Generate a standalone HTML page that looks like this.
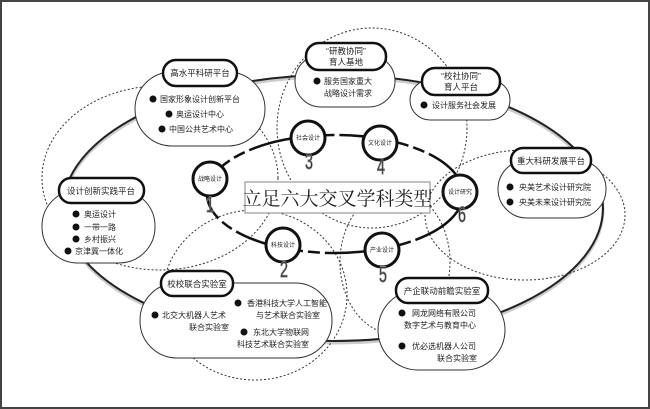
<!DOCTYPE html>
<html><head><meta charset="utf-8"><style>
html,body{margin:0;padding:0;background:#fff}
svg{display:block}
text{font-family:"Liberation Sans","Noto Sans CJK SC",sans-serif;fill:#222}
</style></head><body>
<svg width="650" height="409" viewBox="0 0 650 409" xmlns="http://www.w3.org/2000/svg">
<rect x="1" y="1" width="648" height="407" fill="#fff" stroke="#444" stroke-width="2"/>
<!-- big ellipse -->
<ellipse cx="333" cy="210" rx="270" ry="133" fill="none" stroke="#ccc" stroke-width="3"/>
<ellipse cx="333" cy="208" rx="270" ry="133" fill="none" stroke="#222" stroke-width="2"/>
<!-- dotted circles -->
<g fill="none" stroke="#333" stroke-width="1" stroke-dasharray="2,2">
<ellipse cx="160" cy="178" rx="118" ry="92"/>
<ellipse cx="372" cy="128" rx="95" ry="100"/>
<ellipse cx="525" cy="215" rx="100" ry="65"/>
<ellipse cx="395" cy="262" rx="55" ry="72"/>
<ellipse cx="255" cy="295" rx="92" ry="85"/>
</g>
<!-- inner ellipse -->
<ellipse cx="335" cy="194" rx="128" ry="59" fill="none" stroke="#111" stroke-width="2.5" stroke-dasharray="70,5,12,5"/>
<!-- center box -->
<rect x="245" y="182" width="185" height="31" fill="#fff" stroke="#999" stroke-width="1.2"/>
<text x="337.5" y="205" text-anchor="middle" style="font-family:'Liberation Serif','Noto Serif CJK SC',serif" font-size="19" fill="#111">立足六大交叉学科类型</text>
<!-- nodes -->
<g font-size="6" text-anchor="middle">
<g><circle cx="210" cy="179" r="17" fill="#fff" stroke="#111" stroke-width="3"/><text x="210" y="181">战略设计</text><text transform="translate(210,212) scale(0.65,1)" font-size="22" fill="#fff" stroke="#777" stroke-width="0.9">1</text></g>
<g><circle cx="308" cy="138" r="17" fill="#fff" stroke="#111" stroke-width="3"/><text x="308" y="140">社会设计</text><text transform="translate(309,169) scale(0.65,1)" font-size="22" fill="#fff" stroke="#777" stroke-width="0.9">3</text></g>
<g><circle cx="380" cy="143" r="17" fill="#fff" stroke="#111" stroke-width="3"/><text x="380" y="145">文化设计</text><text transform="translate(381,174) scale(0.65,1)" font-size="22" fill="#fff" stroke="#777" stroke-width="0.9">4</text></g>
<g><circle cx="460" cy="192" r="17" fill="#fff" stroke="#111" stroke-width="3"/><text x="460" y="194">设计研究</text><text transform="translate(462,222) scale(0.65,1)" font-size="22" fill="#fff" stroke="#777" stroke-width="0.9">6</text></g>
<g><circle cx="382" cy="250" r="17" fill="#fff" stroke="#111" stroke-width="3"/><text x="382" y="252">产业设计</text><text transform="translate(383,282) scale(0.65,1)" font-size="22" fill="#fff" stroke="#777" stroke-width="0.9">5</text></g>
<g><circle cx="283" cy="245" r="17" fill="#fff" stroke="#111" stroke-width="3"/><text x="283" y="247">科技设计</text><text transform="translate(284,277) scale(0.65,1)" font-size="22" fill="#fff" stroke="#777" stroke-width="0.9">2</text></g>
</g>
<!-- boxes -->
<g fill="#fff" stroke="#333" stroke-width="1">
<rect x="135" y="72" width="130" height="74" rx="37"/>
<rect x="295" y="55" width="100" height="52" rx="26"/>
<rect x="410" y="80" width="100" height="40" rx="20"/>
<rect x="498" y="160" width="108" height="58" rx="29"/>
<rect x="42" y="190" width="113" height="73" rx="36"/>
<rect x="140" y="283" width="192" height="75" rx="37"/>
<rect x="378" y="290" width="127" height="80" rx="40"/>
</g>
<g fill="#fff" stroke="#111" stroke-width="2.5">
<rect x="163" y="60" width="74" height="26" rx="13"/>
<rect x="306" y="43" width="80" height="27" rx="13"/>
<rect x="422" y="68" width="78" height="27" rx="13"/>
<rect x="511" y="148" width="80" height="25" rx="12"/>
<rect x="59" y="178" width="85" height="25" rx="12"/>
<rect x="161" y="271" width="72" height="25" rx="12"/>
<rect x="396" y="278" width="92" height="25" rx="12"/>
</g>
<g font-size="8.5" text-anchor="middle">
<text x="200" y="76">高水平科研平台</text>
<text x="346" y="54">“研教协同”</text><text x="346" y="65">育人基地</text>
<text x="461" y="79">“校社协同”</text><text x="461" y="90">育人平台</text>
<text x="551" y="164">重大科研发展平台</text>
<text x="101" y="194">设计创新实践平台</text>
<text x="197" y="287">校校联合实验室</text>
<text x="442" y="294">产企联动前瞻实验室</text>
</g>
<g font-size="8">
<circle cx="153" cy="99" r="3.5" fill="#111"/><text x="160" y="102">国家形象设计创新平台</text>
<circle cx="169" cy="114" r="3.5" fill="#111"/><text x="176" y="117">奥运设计中心</text>
<circle cx="162" cy="129" r="3.5" fill="#111"/><text x="169" y="132">中国公共艺术中心</text>
<circle cx="317" cy="81" r="3.5" fill="#111"/><text x="324" y="84">服务国家重大</text><text x="324" y="96">战略设计需求</text>
<circle cx="424" cy="105" r="3.5" fill="#111"/><text x="432" y="108">设计服务社会发展</text>
<circle cx="510" cy="187" r="3.5" fill="#111"/><text x="519" y="190">央美艺术设计研究院</text>
<circle cx="510" cy="202" r="3.5" fill="#111"/><text x="519" y="205">央美未来设计研究院</text>
<circle cx="76" cy="214" r="3.5" fill="#111"/><text x="84" y="217">奥运设计</text>
<circle cx="76" cy="227" r="3.5" fill="#111"/><text x="84" y="230">一带一路</text>
<circle cx="76" cy="239" r="3.5" fill="#111"/><text x="84" y="242">乡村振兴</text>
<circle cx="68" cy="251" r="3.5" fill="#111"/><text x="75" y="254">京津冀一体化</text>
<circle cx="238" cy="303" r="3.5" fill="#111"/><text x="247" y="306">香港科技大学人工智能</text><text x="256" y="318">与艺术联合实验室</text>
<circle cx="155" cy="315" r="3.5" fill="#111"/><text x="162" y="318">北交大机器人艺术</text><text x="189" y="330">联合实验室</text>
<circle cx="244" cy="332" r="3.5" fill="#111"/><text x="253" y="335">东北大学物联网</text><text x="237" y="347">科技艺术联合实验室</text>
<circle cx="402" cy="313" r="3.5" fill="#111"/><text x="412" y="316">网龙网络有限公司</text><text x="404" y="328">数字艺术与教育中心</text>
<circle cx="402" cy="346" r="3.5" fill="#111"/><text x="412" y="349">优必选机器人公司</text><text x="437" y="361">联合实验室</text>
</g>
</svg>
</body></html>
